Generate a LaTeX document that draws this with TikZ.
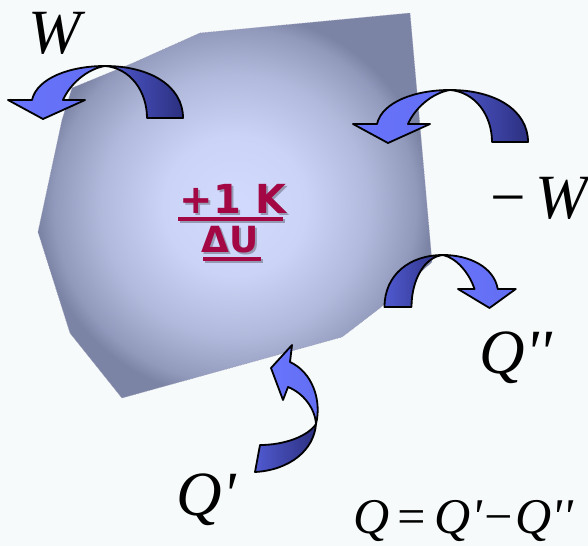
\documentclass[tikz,border=0pt]{standalone}
\usepackage{fontspec}
\usepackage{tikz}
\newfontfamily\lblfont[Ligatures=TeXOff]{Liberation Serif}
\newfontfamily\midfont{DejaVu Sans}
\definecolor{paper}{RGB}{247,250,251}
\definecolor{bodyin}{RGB}{210,219,253}
\definecolor{bodyout}{RGB}{124,132,166}
\definecolor{arrlight}{RGB}{104,116,252}
\definecolor{arrmid}{RGB}{80,90,208}
\definecolor{arrdark}{RGB}{44,48,128}
\definecolor{maroon}{RGB}{163,8,68}
\definecolor{shadowc}{RGB}{150,153,180}

\pgfdeclareradialshading{bodyshade}{\pgfpoint{0bp}{0bp}}{%
  color(0bp)=(bodyin); color(9bp)=(bodyin!92!bodyout);
  color(17bp)=(bodyin!62!bodyout); color(23bp)=(bodyin!25!bodyout);
  color(25bp)=(bodyout); color(50bp)=(bodyout)}

% curved block arrow, tail right, head left pointing down
\newcommand{\bentarrow}[1]{%
  \begin{scope}[#1]
    \draw[backpart] (0,0) .. controls (45,0) and (78,20) .. (78,52)
      -- (42,52) .. controls (42,25) and (25,2) .. (0,0) -- cycle;
    \draw[frontpart] (0,0) .. controls (-35,0) and (-68,12) .. (-73,34)
      -- (-97,34) -- (-62,53) -- (-20,34) -- (-42,34)
      .. controls (-35,18) and (-18,3) .. (0,0) -- cycle;
  \end{scope}}

\begin{document}
\begin{tikzpicture}[
  x=1pt, y=-1pt,
  backpart/.style={draw=black,line width=1.8pt,line join=round,
                   left color=arrmid,right color=arrdark},
  frontpart/.style={draw=black,line width=1.8pt,line join=round,
                    left color=arrlight,right color=arrlight!75!arrmid},
  lbl/.style={font=\lblfont\itshape\fontsize{63}{70}\selectfont,
              inner sep=0pt,anchor=base},
  midtxt/.style={font=\midfont\bfseries\fontsize{#1}{#1}\selectfont,
                 inner sep=0pt,anchor=base,text=maroon},
  midtxt/.default=40
]
\fill[paper] (0,0) rectangle (588,546);

% the body
\shade[shading=bodyshade,draw=shadowc,line width=0.6pt,densely dotted]
  (133,63) -- (200,33) -- (410,13) -- (432,262) -- (380,308) -- (342,337)
  -- (122,398) -- (70,333) -- (38,232) -- (62,120) -- (72,88) -- cycle;

% label in the middle
\node[midtxt, text=shadowc] at (235,215) {+1 K};
\node[midtxt] (dk) at (233,213) {+1 K};
\fill[shadowc] (180,219) rectangle (285,223);
\fill[maroon] (178,217) rectangle (283,221);
\node[midtxt=36, text=shadowc] at (232,254) {ΔU};
\node[midtxt=36] (du) at (230,252) {ΔU};
\fill[shadowc] (205,259) rectangle (263,263);
\fill[maroon] (203,257) rectangle (261,261);

% arrows
\bentarrow{shift={(105,66)}}
\bentarrow{shift={(450,90)}}
\bentarrow{shift={(443,255)},xscale=-0.75}
\draw[backpart] (316,424) .. controls (314,450) and (290,470) .. (255,472)
  -- (260,445) .. controls (285,445) and (308,436) .. (316,424) -- cycle;
\draw[frontpart] (316,424) .. controls (322,400) and (312,372) .. (290,362)
  -- (292,345) -- (271,368) -- (283,400) -- (288,387)
  .. controls (303,393) and (315,408) .. (316,424) -- cycle;

% labels
\node[lbl] (w)  at (55,53)    {W};
\node[lbl] (mw) at (537,218)  {−\kern6pt W};
\node[lbl] (q2) at (516,373)  {Q''};
\node[lbl] (q1) at (206,515)  {Q'};
\node[lbl,font=\lblfont\itshape\fontsize{50}{56}\selectfont] (qq) at (463,533)
  {Q\kern5pt=\kern7pt Q'−Q''};
\end{tikzpicture}
\end{document}
